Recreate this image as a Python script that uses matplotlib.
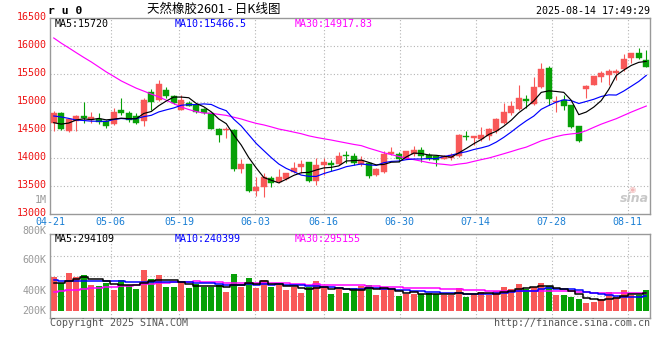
import matplotlib
matplotlib.use("Agg")
import matplotlib.pyplot as plt
import matplotlib.transforms as mtransforms
import pandas as pd

# ru0 daily candles, 2025-04-21 .. 2025-08-14 (80 sessions)
opens = [14625, 14805, 14475, 14655, 14755, 14685, 14700, 14655, 14605, 14860,
         14805, 14755, 14655, 15180, 15030, 15220, 15100, 14860, 14980, 14950,
         14875, 14805, 14525, 14495, 14505, 13810, 13885, 13410, 13485, 13635,
         13575, 13620, 13745, 13840, 13925, 13585, 13870, 13910, 13900, 14060,
         14030, 13890, 13910, 13690, 13745, 14070, 14070, 13980, 14075, 14150,
         14060, 14030, 13980, 14000, 14030, 14400, 14350, 14340, 14385, 14475,
         14625, 14800, 14880, 15055, 14965, 15275, 15615, 15005, 15040, 14940,
         14575, 15240, 15305, 15455, 15485, 15515, 15585, 15780, 15875, 15750]
highs = [14845, 14815, 14710, 14765, 14995, 14820, 14805, 14670, 14890, 15070,
         14835, 14805, 15070, 15230, 15385, 15265, 15130, 15130, 15010, 14970,
         14890, 14810, 14530, 14545, 14515, 13985, 13890, 13660, 13735, 13675,
         13810, 13740, 13925, 13970, 13930, 14000, 14000, 13970, 14100, 14120,
         14090, 14030, 13930, 13815, 14120, 14195, 14100, 14125, 14210, 14190,
         14090, 14040, 14050, 14090, 14420, 14475, 14400, 14545, 14535, 14710,
         14980, 15010, 15305, 15130, 15455, 15690, 15650, 15100, 15130, 14945,
         14580, 15300, 15470, 15545, 15585, 15590, 15860, 15880, 15960, 15930]
lows = [14475, 14505, 14465, 14475, 14625, 14625, 14610, 14535, 14595, 14775,
        14635, 14610, 14565, 14860, 15010, 15070, 14970, 14850, 14920, 14805,
        14785, 14510, 14280, 14355, 13760, 13730, 13400, 13325, 13295, 13485,
        13560, 13610, 13735, 13735, 13580, 13525, 13700, 13760, 13880, 13910,
        13880, 13860, 13640, 13680, 13730, 14060, 13920, 13975, 14030, 13920,
        13970, 13860, 13975, 13960, 14025, 14315, 14235, 14295, 14325, 14455,
        14610, 14770, 14860, 14900, 14950, 15245, 14950, 14815, 14860, 14535,
        14280, 15070, 15300, 15355, 15305, 15385, 15555, 15690, 15770, 15620]
closes = [14805, 14525, 14695, 14755, 14720, 14730, 14635, 14565, 14820, 14805,
          14685, 14625, 15040, 14995, 15325, 15100, 14980, 15040, 14935, 14815,
          14805, 14525, 14405, 14515, 13805, 13900, 13410, 13480, 13665, 13560,
          13665, 13735, 13825, 13900, 13590, 13880, 13920, 13875, 14030, 14030,
          13910, 13970, 13670, 13805, 14070, 14110, 13990, 14120, 14150, 14030,
          13980, 13960, 14040, 14060, 14415, 14375, 14385, 14415, 14515, 14695,
          14830, 14920, 15080, 15010, 15260, 15590, 15055, 15025, 14930, 14550,
          14310, 15290, 15465, 15515, 15545, 15555, 15770, 15880, 15790, 15630]
# volume, thousand lots
volumes = [641, 526, 730, 647, 685, 493, 474, 538, 397, 589,
           493, 417, 781, 609, 685, 455, 455, 551, 436, 513,
           449, 449, 493, 359, 705, 461, 628, 436, 589, 455,
           493, 397, 449, 340, 449, 570, 449, 321, 436, 340,
           436, 474, 493, 301, 436, 397, 282, 321, 321, 321,
           334, 321, 301, 301, 436, 263, 321, 359, 301, 378,
           455, 417, 513, 417, 455, 538, 480, 301, 301, 269,
           225, 154, 173, 225, 365, 269, 397, 301, 301, 397]

# earlier sessions (off the chart), only used so the moving averages start where the picture shows
hist_closes = [17300, 17200, 17350, 17250, 17150, 17300, 17250, 17200, 17250, 16650,
               16550, 16600, 16600, 16800, 16900, 16800, 16850, 16300, 15950, 15540,
               14700, 14950, 15050, 14800, 14850, 14650, 14600, 14480, 14617]
hist_volumes = [192, 211, 230, 192, 211, 230, 211, 250, 230, 211,
                192, 230, 250, 211, 230, 269, 288, 307, 403, 499,
                730, 768, 634, 576, 557, 518, 499, 480, 492]

tick_labels = ["04-21", "05-06", "05-19", "06-03", "06-16", "06-30", "07-14", "07-28", "08-11"]
tick_sessions = [0, 8, 17, 27, 36, 46, 56, 66, 76]
price_ticks = [13000, 13500, 14000, 14500, 15000, 15500, 16000, 16500]

UP, DOWN = "#f85858", "#07a007"
GRID = "#b4b4b4"
MONO = "DejaVu Sans Mono"
FS = 7.2

W, H = 660, 360
def fx(x):
    return x / W
def fy(y):
    return 1 - y / H

fig = plt.figure(figsize=(6.6, 3.6), dpi=100)
fig.patch.set_facecolor("white")

n = len(closes)
xs = list(range(n))
up = [c >= o for o, c in zip(opens, closes)]
colors = [UP if u else DOWN for u in up]

ma = {}
vma = {}
cs = pd.Series(hist_closes + closes)
vs = pd.Series(hist_volumes + volumes)
for k in (5, 10, 30):
    ma[k] = cs.rolling(k).mean().to_numpy()[-n:]
    vma[k] = vs.rolling(k).mean().to_numpy()[-n:]
ma_colors = {5: "black", 10: "#0000ff", 30: "#ff00ff"}

# ---- price panel
ax = fig.add_axes([fx(50), fy(214), 599.5 / W, 196 / H])
ax.set_xlim(-0.5, 79.43)
ax.set_ylim(13000, 16500)

# date grid is spaced a touch wider than the candle slots on sina charts
tick_pos = [d * 7.6 / 7.5 - 0.5 for d in tick_sessions]

for p in tick_pos[1:]:
    ax.axvline(p, color=GRID, lw=0.8, ls=(0, (1, 2)), zorder=0)
for v in price_ticks[1:-1]:
    ax.axhline(v, color=GRID, lw=0.8, ls=(0, (1, 2)), zorder=0)

ax.vlines(xs, lows, highs, colors=colors, lw=0.8, zorder=2)
bottoms = [min(o, c) for o, c in zip(opens, closes)]
heights = [max(abs(c - o), 8) for o, c in zip(opens, closes)]
ax.bar(xs, heights, bottom=bottoms, width=0.8, color=colors, edgecolor=colors,
       linewidth=0.3, zorder=3)

for k in (30, 10, 5):
    ax.plot(xs, ma[k], color=ma_colors[k], lw=0.85, zorder=4)

ax.set_xticks(tick_pos)
ax.set_xticklabels(tick_labels, fontfamily=MONO, fontsize=FS, color="#1a7fd4")
ax.set_yticks(price_ticks)
ax.set_yticklabels([str(v) for v in price_ticks], fontfamily=MONO, fontsize=FS, color="#ee1111")
ax.tick_params(axis="x", length=0, pad=2.2)
ax.tick_params(axis="y", length=0, pad=2.5)
lift = mtransforms.ScaledTranslation(0, 2.5 / 100, fig.dpi_scale_trans)
for lab in ax.get_yticklabels():
    lab.set_transform(lab.get_transform() + lift)
for s in ax.spines.values():
    s.set_color("#999999")
    s.set_linewidth(1)

# ---- volume panel
axv = fig.add_axes([fx(50), fy(317.7), 599.5 / W, (317.7 - 234.3) / H])
axv.set_xlim(-0.5, 79.43)
axv.set_ylim(-134, 1467)
for p in tick_pos[1:]:
    axv.axvline(p, color=GRID, lw=0.8, ls=(0, (1, 2)), zorder=0)
for f in (0.743, 0.504, 0.264):
    axv.plot([0, 1], [f, f], transform=axv.transAxes, color=GRID, lw=0.8,
             ls=(0, (1, 2)), zorder=0)
axv.bar(xs, volumes, width=0.8, color=colors, linewidth=0, zorder=2)
for k in (30, 10, 5):
    axv.plot(xs, vma[k], color=ma_colors[k], lw=1.1, drawstyle="steps-mid", zorder=3)
axv.set_xticks([])
axv.set_yticks([])
for s in axv.spines.values():
    s.set_color("#999999")
    s.set_linewidth(1)

# volume axis labels as sina prints them
for txt, y in [("1M", 200), ("800K", 231), ("600K", 260), ("400K", 291), ("200K", 311)]:
    fig.text(fx(46.5), fy(y), txt, ha="right", va="center", fontfamily=MONO,
             fontsize=FS, color="#999999")

# legends
for txt, x, c in [("MA5:15720", 55, "black"), ("MA10:15466.5", 175, "#0000ff"),
                  ("MA30:14917.83", 295, "#ff00ff")]:
    fig.text(fx(x), fy(23.8), txt, ha="left", va="center", fontfamily=MONO, fontsize=FS, color=c)
for txt, x, c in [("MA5:294109", 55, "black"), ("MA10:240399", 175, "#0000ff"),
                  ("MA30:295155", 295, "#ff00ff")]:
    fig.text(fx(x), fy(239), txt, ha="left", va="center", fontfamily=MONO, fontsize=FS, color=c)

# header
fig.text(fx(48), fy(10.5), "r u 0", ha="left", va="center", fontfamily=MONO,
         fontsize=8.2, fontweight="bold", color="black")
fig.text(fx(214), fy(9.5), "天然橡胶2601 - 日K线图", ha="center", va="center",
         family=["Noto Sans CJK SC", "DejaVu Sans"], fontsize=9, color="black")
fig.text(fx(650), fy(11), "2025-08-14 17:49:29", ha="right", va="center",
         fontfamily=MONO, fontsize=FS, color="black")

# footer
fig.text(fx(50), fy(323.5), "Copyright 2025 SINA.COM", ha="left", va="center",
         fontfamily=MONO, fontsize=FS, color="#555555")
fig.text(fx(650), fy(323.5), "http://finance.sina.com.cn", ha="right", va="center",
         fontfamily=MONO, fontsize=FS, color="#555555")

# watermark
fig.text(fx(634), fy(199), "sina", ha="center", va="center", fontsize=9,
         fontstyle="italic", fontweight="bold", color="#c8c8c8")
fig.text(fx(632), fy(189.5), "◉", ha="center", va="center", fontsize=6,
         color="#f2b8b8")

fig.savefig("out.png", dpi=100, facecolor="white")
